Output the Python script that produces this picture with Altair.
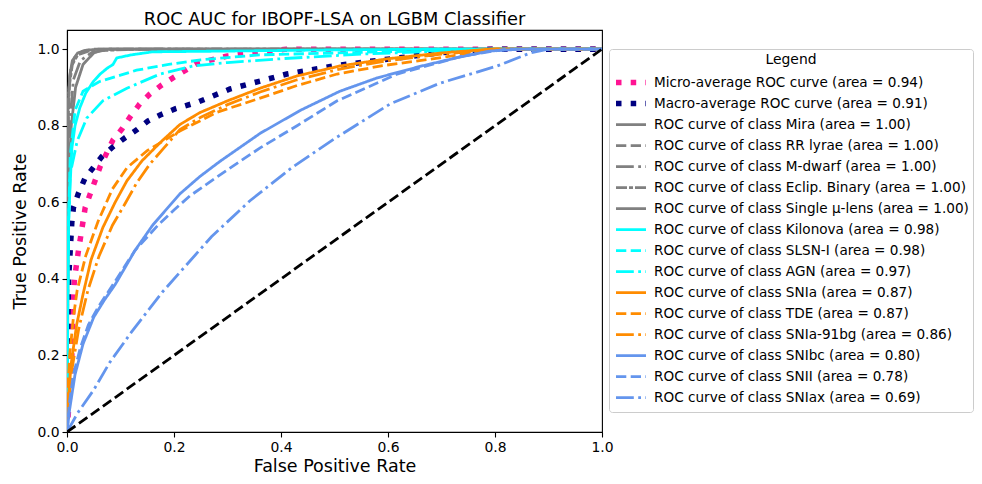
import altair as alt
import pandas as pd

# ---- series labels (legend order) ----
labels = [
    "Micro-average ROC curve (area = 0.94)",
    "Macro-average ROC curve (area = 0.91)",
    "ROC curve of class Mira (area = 1.00)",
    "ROC curve of class RR lyrae (area = 1.00)",
    "ROC curve of class M-dwarf (area = 1.00)",
    "ROC curve of class Eclip. Binary (area = 1.00)",
    "ROC curve of class Single μ-lens (area = 1.00)",
    "ROC curve of class Kilonova (area = 0.98)",
    "ROC curve of class SLSN-I (area = 0.98)",
    "ROC curve of class AGN (area = 0.97)",
    "ROC curve of class SNIa (area = 0.87)",
    "ROC curve of class TDE (area = 0.87)",
    "ROC curve of class SNIa-91bg (area = 0.86)",
    "ROC curve of class SNIbc (area = 0.80)",
    "ROC curve of class SNII (area = 0.78)",
    "ROC curve of class SNIax (area = 0.69)",
]

# ---- curve values (fpr, tpr) ----
micro_fpr = [0, 0.005, 0.009, 0.011, 0.014, 0.021, 0.034, 0.062, 0.086, 0.103, 0.118, 0.136, 0.155, 0.177, 0.198, 0.222, 0.245, 0.3, 0.41, 0.6, 1.0]
micro_tpr = [0, 0.1, 0.2, 0.33, 0.4, 0.47, 0.586, 0.693, 0.763, 0.792, 0.823, 0.857, 0.883, 0.906, 0.925, 0.945, 0.964, 0.982, 1.0, 1.0, 1.0]

macro_fpr = [0, 0.001, 0.003, 0.006, 0.009, 0.012, 0.021, 0.034, 0.049, 0.065, 0.086, 0.108, 0.131, 0.151, 0.174, 0.202, 0.245, 0.305, 0.411, 0.497, 0.572, 0.678, 0.73, 0.8, 1.0]
macro_tpr = [0, 0.25, 0.4, 0.474, 0.547, 0.586, 0.622, 0.664, 0.69, 0.719, 0.745, 0.768, 0.79, 0.812, 0.828, 0.844, 0.862, 0.896, 0.935, 0.956, 0.969, 0.987, 0.995, 1.0, 1.0]

mira_fpr = [0, 0, 0.002, 0.005, 0.01, 0.02, 0.035, 0.06, 1.0]
mira_tpr = [0, 0.55, 0.85, 0.93, 0.97, 0.99, 0.997, 1.0, 1.0]

rr_fpr = [0, 0.001, 0.003, 0.007, 0.015, 0.03, 0.05, 1.0]
rr_tpr = [0, 0.7, 0.88, 0.95, 0.98, 0.995, 1.0, 1.0]

mdwarf_fpr = [0, 0.002, 0.006, 0.012, 0.025, 0.045, 0.08, 1.0]
mdwarf_tpr = [0, 0.6, 0.82, 0.92, 0.97, 0.99, 1.0, 1.0]

eclip_fpr = [0, 0.001, 0.004, 0.01, 0.02, 0.04, 0.13, 1.0]
eclip_tpr = [0, 0.75, 0.9, 0.96, 0.985, 0.995, 1.0, 1.0]

single_fpr = [0, 0.003, 0.008, 0.016, 0.03, 0.05, 0.07, 1.0]
single_tpr = [0, 0.65, 0.8, 0.9, 0.96, 0.99, 1.0, 1.0]

kilonova_fpr = [0, 0.001, 0.003, 0.006, 0.009, 0.015, 0.024, 0.035, 0.049, 0.062, 0.075, 0.086, 0.093, 0.12, 0.16, 0.3, 0.5, 0.7, 1.0]
kilonova_tpr = [0, 0.3, 0.55, 0.65, 0.74, 0.8, 0.847, 0.885, 0.915, 0.935, 0.95, 0.96, 0.977, 0.985, 0.993, 0.995, 0.998, 1.0, 1.0]

slsn_fpr = [0, 0.002, 0.006, 0.015, 0.03, 0.06, 0.1, 0.13, 0.19, 0.25, 0.36, 0.5, 0.65, 0.8, 1.0]
slsn_tpr = [0, 0.5, 0.72, 0.84, 0.89, 0.915, 0.932, 0.945, 0.96, 0.972, 0.985, 0.99, 0.995, 1.0, 1.0]

agn_fpr = [0, 0.001, 0.003, 0.006, 0.019, 0.037, 0.067, 0.112, 0.174, 0.236, 0.3, 0.4, 0.55, 0.7, 0.85, 1.0]
agn_tpr = [0, 0.3, 0.55, 0.674, 0.76, 0.82, 0.865, 0.898, 0.935, 0.956, 0.965, 0.975, 0.987, 0.995, 1.0, 1.0]

snia_fpr = [0, 0.002, 0.008, 0.018, 0.03, 0.045, 0.067, 0.09, 0.112, 0.14, 0.175, 0.211, 0.248, 0.3, 0.361, 0.43, 0.51, 0.6, 0.7, 0.79, 1.0]
snia_tpr = [0, 0.08, 0.18, 0.28, 0.36, 0.45, 0.534, 0.6, 0.656, 0.708, 0.757, 0.803, 0.834, 0.865, 0.898, 0.93, 0.956, 0.975, 0.99, 1.0, 1.0]

tde_fpr = [0, 0.001, 0.005, 0.012, 0.019, 0.035, 0.058, 0.085, 0.112, 0.15, 0.211, 0.28, 0.361, 0.43, 0.505, 0.59, 0.68, 0.8, 1.0]
tde_tpr = [0, 0.1, 0.2, 0.3, 0.37, 0.46, 0.55, 0.635, 0.69, 0.735, 0.786, 0.835, 0.872, 0.905, 0.935, 0.957, 0.974, 1.0, 1.0]

snia91_fpr = [0, 0.003, 0.01, 0.022, 0.039, 0.06, 0.085, 0.11, 0.13, 0.155, 0.18, 0.211, 0.25, 0.3, 0.361, 0.43, 0.51, 0.6, 0.7, 0.8, 1.0]
snia91_tpr = [0, 0.08, 0.17, 0.27, 0.37, 0.46, 0.54, 0.6, 0.65, 0.7, 0.74, 0.79, 0.822, 0.855, 0.888, 0.92, 0.948, 0.97, 0.987, 1.0, 1.0]

snibc_fpr = [0, 0.005, 0.015, 0.03, 0.05, 0.07, 0.09, 0.127, 0.16, 0.211, 0.249, 0.286, 0.361, 0.436, 0.51, 0.58, 0.66, 0.73, 0.79, 0.85, 1.0]
snibc_tpr = [0, 0.06, 0.15, 0.23, 0.3, 0.345, 0.385, 0.474, 0.54, 0.622, 0.668, 0.707, 0.78, 0.84, 0.89, 0.925, 0.955, 0.978, 0.995, 1.0, 1.0]

snii_fpr = [0, 0.004, 0.012, 0.025, 0.04, 0.06, 0.086, 0.127, 0.17, 0.2, 0.23, 0.3, 0.361, 0.43, 0.505, 0.617, 0.74, 0.82, 1.0]
snii_tpr = [0, 0.07, 0.15, 0.22, 0.28, 0.33, 0.385, 0.474, 0.54, 0.58, 0.617, 0.685, 0.742, 0.8, 0.865, 0.935, 0.982, 1.0, 1.0]

sniax_fpr = [0, 0.02, 0.05, 0.08, 0.12, 0.178, 0.211, 0.27, 0.342, 0.42, 0.5, 0.604, 0.697, 0.804, 0.866, 0.9, 1.0]
sniax_tpr = [0, 0.05, 0.11, 0.182, 0.26, 0.365, 0.417, 0.51, 0.604, 0.69, 0.766, 0.857, 0.911, 0.956, 0.99, 1.0, 1.0]

chance_fpr = [0.0, 1.0]
chance_tpr = [0.0, 1.0]

# ---- styles ----
colors = ["#ff1493", "#000080"] + ["#808080"] * 5 + ["#00ffff"] * 3 + ["#ff8c00"] * 3 + ["#6495ed"] * 3
SOLID = [1, 0]
DASH = [10.3, 4.4]
DASHDOT = [17.8, 4.4, 2.8, 4.4]
DOT = [5.5, 9.2]
ECLIP = [11, 2, 4, 2]
dashes = [DOT, DOT, SOLID, DASH, DASHDOT, ECLIP, SOLID,
          SOLID, DASH, DASHDOT, SOLID, DASH, DASHDOT, SOLID, DASH, DASHDOT]
widths = [5.5, 5.5] + [2.8] * 14

curves = [
    (micro_fpr, micro_tpr), (macro_fpr, macro_tpr),
    (mira_fpr, mira_tpr), (rr_fpr, rr_tpr), (mdwarf_fpr, mdwarf_tpr),
    (eclip_fpr, eclip_tpr), (single_fpr, single_tpr),
    (kilonova_fpr, kilonova_tpr), (slsn_fpr, slsn_tpr), (agn_fpr, agn_tpr),
    (snia_fpr, snia_tpr), (tde_fpr, tde_tpr), (snia91_fpr, snia91_tpr),
    (snibc_fpr, snibc_tpr), (snii_fpr, snii_tpr), (sniax_fpr, sniax_tpr),
]

rows = []
for lab, (fx, ty) in zip(labels, curves):
    for i, (a, b) in enumerate(zip(fx, ty)):
        rows.append({"series": lab, "fpr": a, "tpr": b, "idx": i})
df = pd.DataFrame(rows)
diag = pd.DataFrame({"fpr": chance_fpr, "tpr": chance_tpr, "idx": [0, 1]})

FONT = "DejaVu Sans"

legend = alt.Legend(
    title="Legend", orient="none", legendX=542, legendY=19,
    symbolType="stroke", symbolSize=900, labelLimit=0,
    labelFontSize=13.6, labelFont=FONT, labelColor="black",
    titleFontSize=13.9, titleFont=FONT, titleFontWeight="normal", titleColor="black",
    titleAnchor="middle", titleAlign="center", titlePadding=5.5,
    padding=4, labelOffset=5, rowPadding=0, clipHeight=20.4,
    strokeColor="#cccccc", fillColor="white", cornerRadius=3,
)

x = alt.X("fpr:Q", scale=alt.Scale(domain=[0, 1], nice=False, zero=False),
          axis=alt.Axis(title="False Positive Rate", values=[0, 0.2, 0.4, 0.6, 0.8, 1.0], format=".1f"))
y = alt.Y("tpr:Q", scale=alt.Scale(domain=[0, 1.05], nice=False, zero=False),
          axis=alt.Axis(title="True Positive Rate", values=[0, 0.2, 0.4, 0.6, 0.8, 1.0], format=".1f"))

lines = alt.Chart(df).mark_line(clip=True, strokeCap="butt").encode(
    x=x, y=y,
    color=alt.Color("series:N", sort=labels, scale=alt.Scale(domain=labels, range=colors), legend=legend),
    strokeDash=alt.StrokeDash("series:N", sort=labels, scale=alt.Scale(type="ordinal", domain=labels, range=dashes), legend=legend),
    strokeWidth=alt.StrokeWidth("series:N", sort=labels, scale=alt.Scale(type="ordinal", domain=labels, range=widths), legend=legend),
    order=alt.Order("idx:Q"),
)

diag_line = alt.Chart(diag).mark_line(clip=True, color="black", strokeDash=[10.3, 4.4], strokeWidth=2.8).encode(
    x="fpr:Q", y="tpr:Q", order=alt.Order("idx:Q"),
)

chart = alt.layer(lines, diag_line).properties(
    width=535, height=402,
    title=alt.Title("ROC AUC for IBOPF-LSA on LGBM Classifier", fontSize=17.8, font=FONT,
                    fontWeight="normal", color="black", anchor="middle", offset=1.5),
    autosize=alt.AutoSizeParams(type="none"),
    padding={"left": 59, "top": 22, "right": 372, "bottom": 44},
).configure_view(stroke="black", strokeWidth=1.1).configure_axis(
    domainColor="black", domainWidth=1.1, tickColor="black", tickWidth=1.1, tickSize=5,
    labelFontSize=13.9, labelFont=FONT, labelColor="black", labelPadding=3, labelFlush=False,
    titleFontSize=17.5, titleFont=FONT, titleFontWeight="normal", titleColor="black",
    grid=False,
).configure_axisX(titlePadding=4).configure_axisY(titlePadding=7)

chart.save("out.html", embed_options={"renderer": "svg", "actions": False})
